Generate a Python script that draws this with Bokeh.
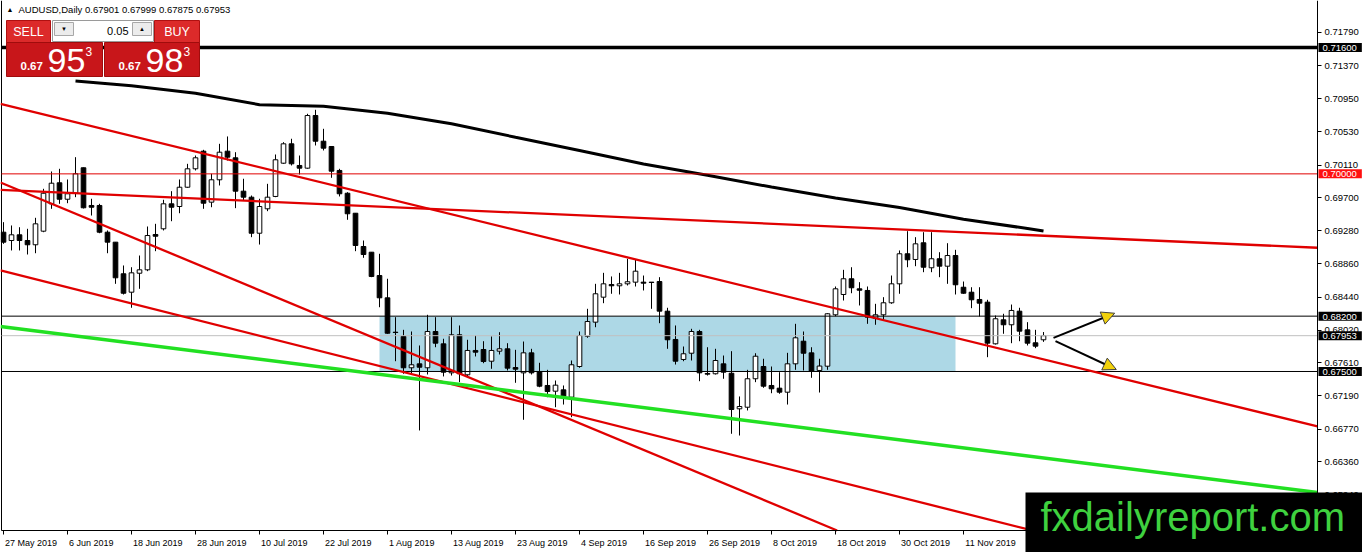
import numpy as np
from bokeh.plotting import figure
from bokeh.models import (ColumnDataSource, FixedTicker, PrintfTickFormatter,
                          CustomJSTickFormatter, Label, Arrow, NormalHead, Range1d)
from bokeh.embed import file_html
from bokeh.resources import INLINE

# ---------------- data ----------------
symbol = "AUDUSD,Daily"
last_ohlc = "0.67901 0.67999 0.67875 0.67953"
bid_price = "0.67953"
ask_price = "0.67983"
lot_size = "0.05"

opens = [0.69262, 0.69157, 0.69229, 0.69157, 0.69103, 0.69275, 0.69621, 0.69887, 0.69679, 0.69755,
         0.70077, 0.69600, 0.69600, 0.69262, 0.69136, 0.68736, 0.68503, 0.68743, 0.68786, 0.69233,
         0.69305, 0.69621, 0.69587, 0.69831, 0.70064, 0.70287, 0.69642, 0.69925, 0.70287, 0.70203,
         0.69781, 0.69705, 0.69249, 0.69558, 0.69714, 0.70135, 0.70380, 0.70106, 0.70072, 0.70738,
         0.70413, 0.70346, 0.70043, 0.69755, 0.69502, 0.69081, 0.69009, 0.68714, 0.68432, 0.67997,
         0.67943, 0.67547, 0.67597, 0.67547, 0.68006, 0.67850, 0.67483, 0.67964, 0.67458, 0.67766,
         0.67778, 0.67630, 0.67757, 0.67787, 0.67550, 0.67483, 0.67736, 0.67500, 0.67323, 0.67251,
         0.67268, 0.67175, 0.67563, 0.67946, 0.68124, 0.68440, 0.68600, 0.68584, 0.68609, 0.68630,
         0.68630, 0.68630, 0.68638, 0.68263, 0.67905, 0.67652, 0.67731, 0.68006, 0.67475, 0.67471,
         0.67597, 0.67478, 0.67028, 0.67048, 0.67408, 0.67563, 0.67323, 0.67289, 0.67238, 0.67597,
         0.67883, 0.67736, 0.67513, 0.67567, 0.68217, 0.68474, 0.68673, 0.68546, 0.68525, 0.68174,
         0.68217, 0.68369, 0.68609, 0.68989, 0.68917, 0.69128, 0.68812, 0.68926, 0.68832, 0.68967,
         0.68566, 0.68503, 0.68411, 0.68377, 0.67850, 0.68154, 0.68091, 0.68263, 0.68027, 0.67863,
         0.67901]
highs = [0.69389, 0.69347, 0.69325, 0.69305, 0.69444, 0.69811, 0.70030, 0.70064, 0.69929, 0.70211,
         0.70080, 0.69685, 0.69621, 0.69284, 0.69136, 0.68841, 0.68819, 0.68967, 0.69334, 0.69368,
         0.69672, 0.69781, 0.69929, 0.70127, 0.70232, 0.70304, 0.70001, 0.70380, 0.70473, 0.70274,
         0.69938, 0.69726, 0.69685, 0.69874, 0.70245, 0.70401, 0.70444, 0.70232, 0.70760, 0.70810,
         0.70570, 0.70346, 0.70064, 0.69768, 0.69502, 0.69157, 0.69009, 0.68989, 0.68673, 0.68187,
         0.68027, 0.68006, 0.67829, 0.68217, 0.68187, 0.67914, 0.68187, 0.68082, 0.67901, 0.67955,
         0.67883, 0.67943, 0.67997, 0.67858, 0.67774, 0.67879, 0.67787, 0.67610, 0.67521, 0.67386,
         0.67323, 0.67639, 0.68006, 0.68293, 0.68609, 0.68748, 0.68702, 0.68748, 0.68926, 0.68913,
         0.68714, 0.68630, 0.68693, 0.68306, 0.68082, 0.67816, 0.68040, 0.68027, 0.67807, 0.67787,
         0.67702, 0.67757, 0.67184, 0.67521, 0.67731, 0.67661, 0.67563, 0.67491, 0.67736, 0.68103,
         0.68006, 0.67807, 0.67661, 0.68237, 0.68575, 0.68786, 0.68819, 0.68630, 0.68575, 0.68356,
         0.68440, 0.68714, 0.69031, 0.69275, 0.69199, 0.69262, 0.69262, 0.69009, 0.69123, 0.69039,
         0.68638, 0.68566, 0.68566, 0.68407, 0.68208, 0.68230, 0.68347, 0.68306, 0.68124, 0.68027,
         0.67999]
lows = [0.69115, 0.69031, 0.69031, 0.68980, 0.68996, 0.69262, 0.69558, 0.69621, 0.69629, 0.69705,
        0.69562, 0.69473, 0.69249, 0.68996, 0.68609, 0.68474, 0.68306, 0.68546, 0.68769, 0.69022,
        0.69284, 0.69401, 0.69502, 0.69824, 0.70043, 0.69558, 0.69578, 0.69853, 0.70169, 0.69566,
        0.69663, 0.69199, 0.69106, 0.69528, 0.69705, 0.70127, 0.70106, 0.69992, 0.70064, 0.70359,
        0.70296, 0.69950, 0.69714, 0.69419, 0.69022, 0.68938, 0.68693, 0.68313, 0.67977, 0.67630,
        0.67471, 0.67462, 0.66754, 0.67462, 0.67807, 0.67437, 0.67449, 0.67365, 0.67437, 0.67690,
        0.67605, 0.67534, 0.67715, 0.67513, 0.67357, 0.66889, 0.67462, 0.67301, 0.67175, 0.67048,
        0.67082, 0.66922, 0.67547, 0.67926, 0.68060, 0.68364, 0.68483, 0.68474, 0.68588, 0.68575,
        0.68525, 0.68293, 0.68111, 0.67787, 0.67588, 0.67630, 0.67639, 0.67377, 0.67449, 0.67462,
        0.67408, 0.66712, 0.66690, 0.67007, 0.67365, 0.67294, 0.67225, 0.67218, 0.67082, 0.67521,
        0.67513, 0.67420, 0.67234, 0.67521, 0.68199, 0.68398, 0.68490, 0.68335, 0.68103, 0.68091,
        0.68145, 0.68356, 0.68483, 0.68819, 0.68832, 0.68756, 0.68756, 0.68693, 0.68609, 0.68474,
        0.68483, 0.68301, 0.68196, 0.67681, 0.67841, 0.67977, 0.67858, 0.67883, 0.67829, 0.67795,
        0.67875]
closes = [0.69136, 0.69229, 0.69157, 0.69103, 0.69368, 0.69755, 0.69882, 0.69679, 0.69748, 0.70001,
          0.69571, 0.69578, 0.69262, 0.69136, 0.68685, 0.68490, 0.68748, 0.68786, 0.69220, 0.69211,
          0.69621, 0.69578, 0.69831, 0.70064, 0.70203, 0.69629, 0.69925, 0.70274, 0.70211, 0.69781,
          0.69705, 0.69249, 0.69587, 0.69705, 0.70178, 0.70380, 0.70127, 0.70072, 0.70738, 0.70413,
          0.70325, 0.70034, 0.69748, 0.69495, 0.69094, 0.68980, 0.68702, 0.68432, 0.67984, 0.67993,
          0.67547, 0.67585, 0.67554, 0.68006, 0.67858, 0.67491, 0.67964, 0.67471, 0.67766, 0.67744,
          0.67626, 0.67766, 0.67787, 0.67542, 0.67529, 0.67736, 0.67483, 0.67314, 0.67247, 0.67327,
          0.67187, 0.67585, 0.67955, 0.68132, 0.68483, 0.68609, 0.68584, 0.68609, 0.68635, 0.68769,
          0.68617, 0.68626, 0.68263, 0.67901, 0.67630, 0.67724, 0.68006, 0.67483, 0.67466, 0.67639,
          0.67491, 0.67019, 0.67057, 0.67408, 0.67693, 0.67314, 0.67281, 0.67238, 0.67597, 0.67926,
          0.67731, 0.67504, 0.67569, 0.68230, 0.68546, 0.68673, 0.68559, 0.68528, 0.68187, 0.68217,
          0.68369, 0.68609, 0.68989, 0.68913, 0.69115, 0.68819, 0.68926, 0.68832, 0.68967, 0.68597,
          0.68490, 0.68407, 0.68364, 0.67858, 0.68167, 0.68091, 0.68272, 0.68010, 0.67858, 0.67820,
          0.67953]

x_tick_bars = [0, 8, 16, 24, 32, 40, 48, 56, 64, 72, 80, 88, 96, 104, 112, 120]
x_tick_labels = ["27 May 2019", "6 Jun 2019", "18 Jun 2019", "28 Jun 2019", "10 Jul 2019",
                 "22 Jul 2019", "1 Aug 2019", "13 Aug 2019", "23 Aug 2019", "4 Sep 2019",
                 "16 Sep 2019", "26 Sep 2019", "8 Oct 2019", "18 Oct 2019", "30 Oct 2019",
                 "11 Nov 2019"]
y_ticks = [0.71790, 0.71370, 0.70950, 0.70530, 0.70110, 0.69700, 0.69280, 0.68860,
           0.68440, 0.68020, 0.67610, 0.67190, 0.66770, 0.66360, 0.65940]

# moving average (black curve), read at sample bars
ma_bars = [9, 16, 24, 32, 40, 48, 56, 64, 72, 80, 88, 96, 104, 112, 120, 128, 130]
ma_values = [0.71176, 0.71114, 0.71019, 0.70875, 0.70856, 0.70766, 0.70635, 0.70463, 0.70296,
             0.70125, 0.69982, 0.69833, 0.69695, 0.69574, 0.69426, 0.69309, 0.69277]

# drawn trend lines: (bar, price) end points
trend_x0 = [-0.375, -0.375, -0.375, -0.375, -0.375]
trend_y0 = [0.70886, 0.69797, 0.69891, 0.68778, 0.68069]
trend_x1 = [164.25, 164.25, 104.2, 128.6, 164.25]
trend_y1 = [0.66805, 0.69065, 0.65489, 0.65489, 0.65969]
trend_colors = ["#e00000", "#e00000", "#e00000", "#e00000", "#22e022"]
trend_widths = [2.3, 2.3, 2.3, 2.3, 3.5]

# horizontal levels
levels = [0.71600, 0.70000, 0.68200, 0.67953, 0.67500]
level_texts = ["0.71600", "0.70000", "0.68200", "0.67953", "0.67500"]
level_colors = ["black", "#e00000", "black", "#c0c0c0", "black"]
level_widths = [3.5, 1, 1, 1, 1]
level_box_colors = ["black", "#ff1010", "black", "black", "black"]

# support zone rectangle
zone_bars = [47, 119]
zone_prices = [0.67500, 0.68200]

# scenario arrows
arrow_x0 = [131.25, 131.5]
arrow_y0 = [0.67926, 0.67883]
arrow_x1 = [138.9, 139.1]
arrow_y1 = [0.68237, 0.67525]

watermark = "fxdailyreport.com"

# ---------------- layout helpers (reference pixel -> data) ----------------
def bx(px):
    return (px - 3) / 8.0


def pr(py):
    return 0.72193 - 1.265e-4 * py


FONT = "Liberation Sans"
W, H = 1362, 552
FRAME_R, FRAME_B = 1317, 530   # chart window edges in pixels

p = figure(width=W, height=H, output_backend="svg", toolbar_location=None,
           x_range=Range1d(bx(0), bx(W)), y_range=Range1d(pr(H), pr(0)),
           y_axis_location="right", x_axis_location="below",
           min_border=0, background_fill_color="white", border_fill_color="white")
p.grid.visible = False
p.outline_line_color = None

ya = p.yaxis[0]
ya.fixed_location = bx(FRAME_R)
ya.bounds = (pr(FRAME_B), pr(0))
ya.ticker = FixedTicker(ticks=y_ticks)
ya.formatter = PrintfTickFormatter(format="%.5f")
ya.major_tick_out = 4
ya.major_tick_in = 0
ya.minor_tick_out = 0
ya.minor_tick_in = 0
ya.major_label_standoff = 3
ya.axis_line_color = "black"
ya.major_tick_line_color = "black"
ya.major_label_text_font = FONT
ya.major_label_text_font_size = "9.5px"
ya.major_label_text_color = "black"

# x labels start at their tick (MT4 style): centre each label right of its bar
char_w = {' ': .278, 'M': .833, 'a': .556, 'y': .5, 'J': .5, 'u': .556, 'n': .556, 'l': .222,
          'A': .667, 'g': .556, 'S': .667, 'e': .556, 'p': .556, 'O': .778, 'c': .5, 't': .278,
          'N': .722, 'o': .556, 'v': .5}
fs = 9.0
centers = []
for b, lab_txt in zip(x_tick_bars, x_tick_labels):
    wpx = sum(char_w.get(ch, .556) for ch in lab_txt) * fs
    centers.append(b + (wpx / 2 + 1.5) / 8.0)

xa = p.xaxis[0]
xa.fixed_location = pr(FRAME_B)
xa.bounds = (bx(1), bx(FRAME_R))
xa.ticker = FixedTicker(ticks=centers, minor_ticks=x_tick_bars)
xa.formatter = CustomJSTickFormatter(
    args=dict(centers=centers, labels=x_tick_labels),
    code="""
    for (let i = 0; i < centers.length; i++) {
        if (Math.abs(centers[i] - tick) < 1e-6) { return labels[i]; }
    }
    return "";
    """)
xa.major_tick_line_color = None
xa.major_tick_out = 0
xa.major_tick_in = 0
xa.minor_tick_out = 4
xa.minor_tick_in = 0
xa.minor_tick_line_color = "black"
xa.major_label_standoff = 3
xa.axis_line_color = "black"
xa.major_label_text_font = FONT
xa.major_label_text_font_size = "9px"
xa.major_label_text_color = "black"

# left border of the chart window
p.segment(x0=[bx(1)], y0=[pr(0)], x1=[bx(1)], y1=[pr(FRAME_B)], line_color="black", line_width=1)

# support zone (behind the candles)
p.quad(left=[zone_bars[0]], right=[zone_bars[1]], bottom=[zone_prices[0]], top=[zone_prices[1]],
       fill_color="#add8e6", line_color=None)

# moving average
p.line(ma_bars, ma_values, line_color="black", line_width=3)

# candles
idx = np.arange(len(opens))
o = np.array(opens)
c = np.array(closes)
bull = c >= o
src = ColumnDataSource(dict(
    x=idx, high=highs, low=lows,
    top=np.maximum(o, c), bottom=np.minimum(o, c),
    fill=np.where(bull, "white", "black"),
))
p.segment(x0="x", y0="low", x1="x", y1="high", source=src, line_color="black", line_width=1)
p.vbar(x="x", top="top", bottom="bottom", width=0.58, source=src,
       fill_color="fill", line_color="black", line_width=1)

# horizontal levels (across the chart window only)
lev_src = ColumnDataSource(dict(x0=[bx(1)] * len(levels), x1=[bx(FRAME_R)] * len(levels),
                                y=levels, color=level_colors, width=level_widths))
p.segment(x0="x0", y0="y", x1="x1", y1="y", line_color="color", line_width="width",
          source=lev_src)

# trend lines
tr_src = ColumnDataSource(dict(x0=trend_x0, y0=trend_y0, x1=trend_x1, y1=trend_y1,
                               color=trend_colors, width=trend_widths))
p.segment(x0="x0", y0="y0", x1="x1", y1="y1", line_color="color", line_width="width",
          source=tr_src)

# arrows
for x0, y0, x1, y1 in zip(arrow_x0, arrow_y0, arrow_x1, arrow_y1):
    p.add_layout(Arrow(end=NormalHead(size=13, fill_color="#f2d20c", line_color="#404040",
                                      line_width=1),
                       x_start=x0, y_start=y0, x_end=x1, y_end=y1,
                       line_color="black", line_width=2))

# one-click trading panel (boxes in reference pixel positions)
panel = dict(
    l=[6, 154, 6, 104, 52, 54, 132],
    r=[50, 199, 102, 199, 153, 73, 151],
    t=[20, 20, 42, 42, 20, 22, 22],
    b=[42, 42, 76, 76, 41, 35, 35],
    fill=["#dc2a2a", "#dc2a2a", "#c8161a", "#c8161a", "white", "#ececec", "#ececec"],
    line=["#b01010", "#b01010", "#a00c0c", "#a00c0c", "#9a9a9a", "#a8a8a8", "#a8a8a8"],
)
pan_src = ColumnDataSource(dict(
    left=[bx(v) for v in panel["l"]], right=[bx(v) for v in panel["r"]],
    top=[pr(v) for v in panel["t"]], bottom=[pr(v) for v in panel["b"]],
    fill=panel["fill"], line=panel["line"]))
p.quad(left="left", right="right", top="top", bottom="bottom", fill_color="fill",
       line_color="line", line_width=1, source=pan_src)


def lab(px, py, text, size, color="black", align="left", baseline="middle", style="normal",
        font=FONT, **kw):
    p.add_layout(Label(x=bx(px), y=pr(py), text=text, text_font=font, text_font_size=size,
                       text_color=color, text_align=align, text_baseline=baseline,
                       text_font_style=style, **kw))


# header
lab(9.5, 8.5, "\u25b2", "7px", align="center")
lab(18, 8.5, symbol + "  " + last_ohlc, "9.5px")

# panel texts
lab(28, 31, "SELL", "12.5px", color="white", align="center")
lab(176.5, 31, "BUY", "12.5px", color="white", align="center")
lab(128, 30.5, lot_size, "11px", align="right")
lab(63.5, 28.5, "\u25bc", "6px", align="center")
lab(141.5, 28.5, "\u25b2", "6px", align="center")
for x0, price in ((20, bid_price), (118, ask_price)):
    lab(x0, 65.5, price[:4], "11.5px", color="white", style="bold")
    lab(x0 + 27, 60, price[4:6], "34px", color="white")
    lab(x0 + 65, 51, price[6], "12px", color="white")

# price boxes on the right scale
for y, t, bc in zip(levels, level_texts, level_box_colors):
    p.add_layout(Label(x=bx(FRAME_R), y=y, x_offset=1, text=t, text_font=FONT,
                       text_font_size="9.5px", text_color="white", text_align="left",
                       text_baseline="middle", background_fill_color=bc,
                       padding=dict(left=4, right=5, top=2, bottom=1)))

# watermark
p.add_layout(Label(x=bx(1025), y=pr(525), text=watermark, text_font=FONT,
                   text_font_size="40px", text_color="#3fd13f", text_align="left",
                   text_baseline="middle", background_fill_color="black",
                   padding=dict(left=15, right=25, top=2, bottom=20)))

open("out.html", "w").write(file_html(p, INLINE, title="AUDUSD Daily"))
